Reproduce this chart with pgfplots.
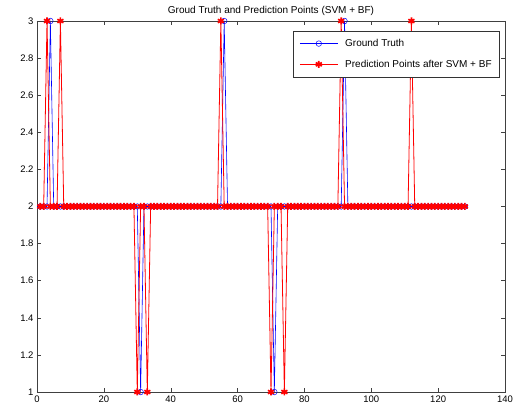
\documentclass[border=0pt]{standalone}
\usepackage{fontspec}
\setmainfont{Liberation Sans}
\usepackage{pgfplots}
\pgfplotsset{compat=1.18}
\begin{document}
\fontsize{10}{12}\selectfont
\begin{tikzpicture}
\useasboundingbox (-37pt,-25pt) rectangle (479pt,392pt);
\begin{axis}[
  scale only axis,
  width=468pt, height=371pt,
  anchor=south west, at={(0,0)},
  xmin=0, xmax=140, ymin=1, ymax=3,
  xtick={0,20,...,140},
  ytick={1,1.2,...,3.01},
  yticklabels={1,1.2,1.4,1.6,1.8,2,2.2,2.4,2.6,2.8,3},
  tick align=inside,
  tick pos=both,
  major tick length=4pt,
  /pgf/number format/assume math mode=true,
  ticklabel style={font=\fontsize{9.5}{11}\selectfont},
  title={Groud Truth and Prediction Points (SVM + BF)},
  title style={font=\fontsize{10}{12}\selectfont, yshift=-4pt},
  legend style={at={(0.989,0.973)}, anchor=north east, draw=black!80,
    font=\fontsize{10}{12}\selectfont, row sep=8pt, column sep=5pt,
    inner xsep=6pt, inner ysep=6pt, cells={anchor=west}},
  legend image code/.code={%
    \draw[#1, mark repeat=2, mark phase=2] plot coordinates {(0pt,0pt)(19pt,0pt)(38pt,0pt)};},
  axis line style={draw=black!75},
  every tick/.style={black!75},
]
\addplot[blue, line width=0.6pt, mark=o, mark size=2.8pt, mark options={solid, line width=0.5pt}] coordinates {
(1,2)(2,2)(3,2)(4,3)(5,2)(6,2)(7,2)(8,2)(9,2)(10,2)
(11,2)(12,2)(13,2)(14,2)(15,2)(16,2)(17,2)(18,2)(19,2)(20,2)
(21,2)(22,2)(23,2)(24,2)(25,2)(26,2)(27,2)(28,2)(29,2)(30,2)
(31,1)(32,2)(33,2)(34,2)(35,2)(36,2)(37,2)(38,2)(39,2)(40,2)
(41,2)(42,2)(43,2)(44,2)(45,2)(46,2)(47,2)(48,2)(49,2)(50,2)
(51,2)(52,2)(53,2)(54,2)(55,2)(56,3)(57,2)(58,2)(59,2)(60,2)
(61,2)(62,2)(63,2)(64,2)(65,2)(66,2)(67,2)(68,2)(69,2)(70,2)
(71,1)(72,2)(73,2)(74,2)(75,2)(76,2)(77,2)(78,2)(79,2)(80,2)
(81,2)(82,2)(83,2)(84,2)(85,2)(86,2)(87,2)(88,2)(89,2)(90,2)
(91,2)(92,3)(93,2)(94,2)(95,2)(96,2)(97,2)(98,2)(99,2)(100,2)
(101,2)(102,2)(103,2)(104,2)(105,2)(106,2)(107,2)(108,2)(109,2)(110,2)
(111,2)(112,2)(113,2)(114,2)(115,2)(116,2)(117,2)(118,2)(119,2)(120,2)
(121,2)(122,2)(123,2)(124,2)(125,2)(126,2)(127,2)(128,2)
};
\addlegendentry{Ground Truth}
\addplot[red, line width=0.8pt, mark=asterisk, mark size=3.5pt, mark options={solid, line width=1.7pt}] coordinates {
(1,2)(2,2)(3,3)(4,2)(5,2)(6,2)(7,3)(8,2)(9,2)(10,2)
(11,2)(12,2)(13,2)(14,2)(15,2)(16,2)(17,2)(18,2)(19,2)(20,2)
(21,2)(22,2)(23,2)(24,2)(25,2)(26,2)(27,2)(28,2)(29,2)(30,1)
(31,2)(32,2)(33,1)(34,2)(35,2)(36,2)(37,2)(38,2)(39,2)(40,2)
(41,2)(42,2)(43,2)(44,2)(45,2)(46,2)(47,2)(48,2)(49,2)(50,2)
(51,2)(52,2)(53,2)(54,2)(55,3)(56,2)(57,2)(58,2)(59,2)(60,2)
(61,2)(62,2)(63,2)(64,2)(65,2)(66,2)(67,2)(68,2)(69,2)(70,1)
(71,2)(72,2)(73,2)(74,1)(75,2)(76,2)(77,2)(78,2)(79,2)(80,2)
(81,2)(82,2)(83,2)(84,2)(85,2)(86,2)(87,2)(88,2)(89,2)(90,2)
(91,3)(92,2)(93,2)(94,2)(95,2)(96,2)(97,2)(98,2)(99,2)(100,2)
(101,2)(102,2)(103,2)(104,2)(105,2)(106,2)(107,2)(108,2)(109,2)(110,2)
(111,2)(112,3)(113,2)(114,2)(115,2)(116,2)(117,2)(118,2)(119,2)(120,2)
(121,2)(122,2)(123,2)(124,2)(125,2)(126,2)(127,2)(128,2)
};
\addlegendentry{Prediction Points after SVM + BF}
\end{axis}
\end{tikzpicture}
\end{document}
